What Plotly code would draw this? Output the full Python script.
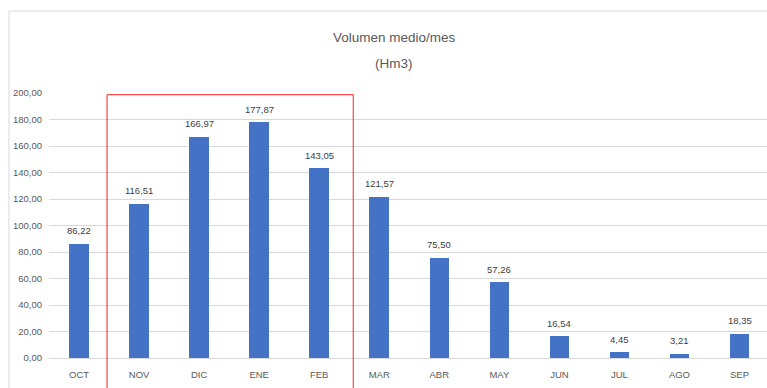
import plotly.graph_objects as go

# Monthly mean volume (Hm3), hydrological year October-September
months = ["OCT", "NOV", "DIC", "ENE", "FEB", "MAR", "ABR", "MAY", "JUN", "JUL", "AGO", "SEP"]
volumes = [86.22, 116.51, 166.97, 177.87, 143.05, 121.57, 75.50, 57.26, 16.54, 4.45, 3.21, 18.35]
y_ticks = [0, 20, 40, 60, 80, 100, 120, 140, 160, 180, 200]

FONT = "Liberation Sans Narrow, Arial Narrow, Liberation Sans, sans-serif"
BAR_COLOR = "#4472C4"
TEXT_GREY = "#595959"

W, H = 767, 388
MARGIN_L, MARGIN_T, MARGIN_B = 49, 93, 30
plot_w = W - MARGIN_L
plot_h = H - MARGIN_T - MARGIN_B

x_range = [-0.5, 11.458]


def to_paper_x(v):
    return (v - x_range[0]) / (x_range[1] - x_range[0])


def px_to_paper_y(py):
    return (H - MARGIN_B - py) / plot_h


fig = go.Figure()
fig.add_trace(go.Bar(
    x=list(range(len(months))),
    y=volumes,
    width=0.325,
    marker=dict(color=BAR_COLOR, line=dict(width=0)),
    hoverinfo="skip",
))

# value labels above each bar
for i, v in enumerate(volumes):
    fig.add_annotation(
        x=i, y=v, xref="x", yref="y",
        text=f"{v:.2f}".replace(".", ","),
        showarrow=False, yshift=13,
        font=dict(family=FONT, size=9.5, color="#404040"),
    )

# two-line chart title
title_x = (394 - MARGIN_L) / plot_w
fig.add_annotation(x=title_x, y=px_to_paper_y(37), xref="paper", yref="paper",
                   text="Volumen medio/mes", showarrow=False, yanchor="middle",
                   font=dict(family=FONT, size=13.5, color=TEXT_GREY))
fig.add_annotation(x=title_x, y=px_to_paper_y(63), xref="paper", yref="paper",
                   text="(Hm3)", showarrow=False, yanchor="middle",
                   font=dict(family=FONT, size=13.5, color=TEXT_GREY))

fig.update_layout(
    width=W, height=H,
    margin=dict(l=MARGIN_L, r=0, t=MARGIN_T, b=MARGIN_B),
    paper_bgcolor="white", plot_bgcolor="white",
    separators=",.",
    showlegend=False,
    bargap=0,
    xaxis=dict(
        range=x_range,
        tickmode="array",
        tickvals=list(range(len(months))),
        ticktext=months,
        showgrid=False, zeroline=False,
        showline=False,
        ticks="",
        tickfont=dict(family=FONT, size=9.5, color=TEXT_GREY),
        ticklabelstandoff=9,
    ),
    yaxis=dict(
        range=[0, 200],
        tickmode="array",
        tickvals=y_ticks,
        tickformat=".2f",
        showgrid=True, gridcolor="#d9d9d9", gridwidth=1,
        zeroline=True, zerolinecolor="#d9d9d9", zerolinewidth=1,
        showline=False, ticks="",
        tickfont=dict(family=FONT, size=9.5, color=TEXT_GREY),
        ticklabelstandoff=6,
    ),
)

# outer chart frame
fig.add_shape(type="rect", xref="paper", yref="paper",
              x0=(9 - MARGIN_L) / plot_w, x1=1.2, y0=-0.5, y1=px_to_paper_y(11),
              line=dict(color="#d9d9d9", width=1), layer="below")

# red highlight around the NOV-FEB wet season
fig.add_shape(type="rect", xref="paper", yref="paper",
              x0=to_paper_x(0.467), x1=to_paper_x(4.567),
              y0=-0.5, y1=px_to_paper_y(94.7),
              line=dict(color="#ff2020", width=1), layer="above")

fig.write_html("out.html")
